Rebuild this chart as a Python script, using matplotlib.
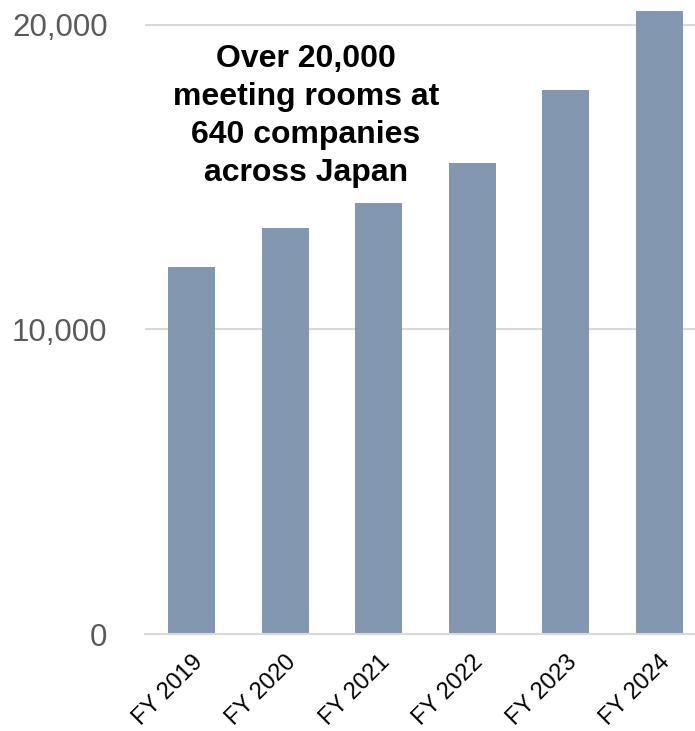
import matplotlib
matplotlib.use("Agg")
from matplotlib import pyplot as plt

# meeting rooms per fiscal year
years = ["FY 2019", "FY 2020", "FY 2021", "FY 2022", "FY 2023", "FY 2024"]
rooms = [12050, 13330, 14150, 15470, 17870, 20470]
yticks = [0, 10000, 20000]
note = "Over 20,000\nmeeting rooms at\n640 companies\nacross Japan"

plt.rcParams['font.family'] = ['Liberation Sans', 'DejaVu Sans']

fig = plt.figure(figsize=(6.95, 7.31), dpi=100)
ax = fig.add_axes([145/695, 97/731, 561/695, 633.4/731])

x = range(len(years))
ax.bar(x, rooms, width=0.5, color='#8497B0', zorder=2)

ax.set_xlim(-0.5, 5.5)
ax.set_ylim(0, 20800)
ax.set_yticks(yticks)
ax.set_yticklabels([f"{v:,}" for v in yticks], fontsize=22.5, color='#595959')
ax.set_xticks(list(x))
ax.set_xticklabels(years, fontsize=17, rotation=45, ha='right',
                   rotation_mode='anchor', color='black')
ax.tick_params(axis='y', length=0, pad=27)
ax.tick_params(axis='x', length=0, pad=12)

ax.grid(axis='y', color='#D9D9D9', linewidth=1.5, zorder=0)
for s in ['top', 'right', 'left']:
    ax.spines[s].set_visible(False)
ax.spines['bottom'].set_color('#D9D9D9')
ax.spines['bottom'].set_linewidth(1.5)

ax.text(1.22, 17000, note, fontsize=23, fontweight='bold', ha='center',
        va='center', linespacing=1.35, color='black')

fig.savefig("out.png", dpi=100)
